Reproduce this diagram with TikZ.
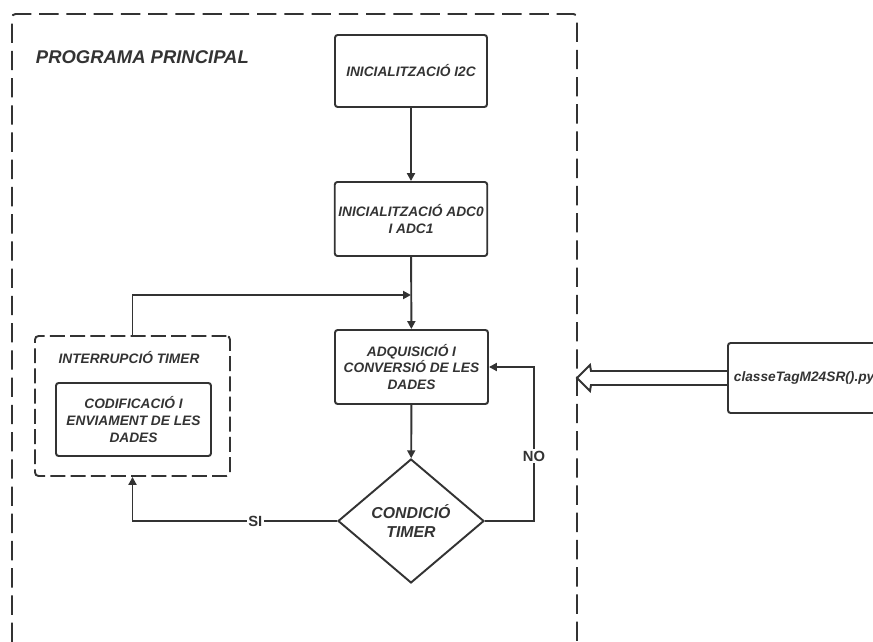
\documentclass[tikz,border=0pt]{standalone}
\usepackage{fontspec}
\setmainfont{Liberation Sans}
\usepackage{xcolor}
\usetikzlibrary{calc,arrows.meta,shapes.geometric}
\definecolor{ink}{HTML}{333333}

\begin{document}
\begin{tikzpicture}[x=0.02cm, y=-0.02cm, line width=1.1pt, draw=ink, text=ink,
    font=\fontsize{7.8}{9.6}\selectfont\bfseries\itshape,
    procbox/.style={draw, rounded corners=1.5pt, align=center, inner sep=2pt},
    arrow/.style={-{Triangle[length=4.5pt,width=4.5pt]}},
    lbl/.style={fill=white, inner sep=1pt, font=\fontsize{8.4}{10}\selectfont\bfseries}]

  \useasboundingbox (0,0) rectangle (873,642);

  %--- Programa principal ---
  \draw[rounded corners=2pt, dash pattern=on 11pt off 4.5pt]
    (12,642) -- (12,14) -- (577,14) -- (577,642);
  \node[anchor=west, inner sep=0pt, font=\fontsize{10.5}{13}\selectfont\bfseries\itshape]
    (title) at (35,57) {PROGRAMA PRINCIPAL};

  \node[procbox, minimum width=3.04cm, minimum height=1.44cm] (i2c) at (411,71)
    {INICIALITZACIÓ I2C};
  \node[procbox, minimum width=3.04cm, minimum height=1.48cm] (adc) at (411,219)
    {INICIALITZACIÓ ADC0\\I ADC1};
  \node[procbox, minimum width=3.06cm, minimum height=1.48cm] (adq) at (411.5,367)
    {ADQUISICIÓ I\\CONVERSIÓ DE LES\\DADES};
  \node[draw, diamond, aspect=1.18, inner sep=0pt, minimum width=2.92cm,
    minimum height=2.48cm, align=center, font=\fontsize{9}{11.3}\selectfont\bfseries\itshape]
    (cond) at (411,521) {CONDICIÓ\\TIMER};

  %--- Interrupcio timer ---
  \node[draw, rounded corners=2pt, dash pattern=on 8.5pt off 3pt,
    minimum width=3.9cm, minimum height=2.8cm] (intr) at (132.5,406) {};
  \node (intrtitle) at (129,358) {INTERRUPCIÓ TIMER};
  \node[procbox, minimum width=3.1cm, minimum height=1.46cm] (cod) at (133.5,419.5)
    {CODIFICACIÓ I\\ENVIAMENT DE LES\\DADES};

  %--- Fitxer python ---
  \node[draw, rounded corners=1.5pt, anchor=west, align=left, inner xsep=3.4pt,
    text width=3.6cm, minimum height=1.4cm] (tag) at (727,378) {classeTagM24SR().py};
  \coordinate (frameR) at (577,378);

  %--- Connexions ---
  \coordinate (join) at (411,295);
  \draw[arrow] (i2c) -- (adc);
  \draw[arrow] (adc) -- (adq);
  \draw[arrow] (adq) -- (cond);
  \draw[arrow] (intr.north) |- (join);
  \draw[arrow] (cond.west) -| (intr.south) node[lbl, pos=0.2] {SI};
  \draw[arrow] (cond.east) -- ++(49,0) |- (adq.east) node[lbl, pos=0.21] {NO};
  % fletxa buida cap al programa
  \draw[line join=miter] ($(tag.west)+(0,-7)$) -- ($(frameR)+(14,-7)$) -- ++(-1,-6)
    -- (frameR) -- ($(frameR)+(13,13)$) -- ++(1,-6) -- ($(tag.west)+(0,7)$);

\end{tikzpicture}
\end{document}
